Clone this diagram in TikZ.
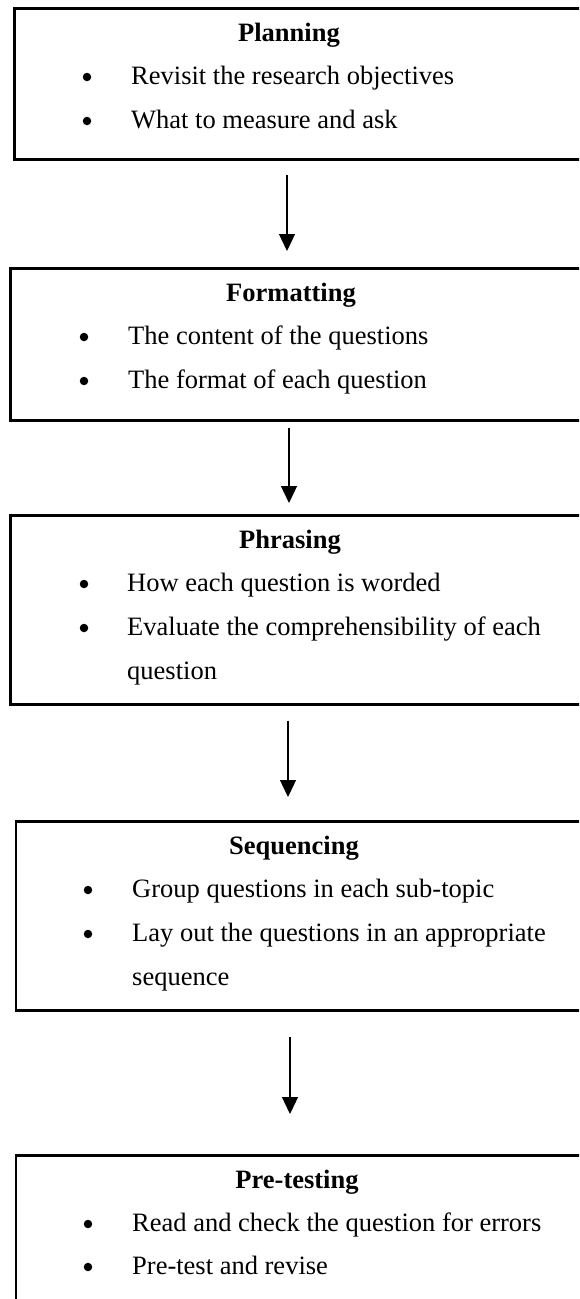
\documentclass[tikz,border=0pt]{standalone}
\usepackage{fontspec}
\setmainfont{Liberation Serif}
\usetikzlibrary{arrows.meta}
\begin{document}
\begin{tikzpicture}[x=1pt,y=-1pt,
  stage/.style={draw=black, line width=2.5pt, rectangle, anchor=north west,
    minimum width=600pt, inner sep=0pt},
  title/.style={anchor=base, inner sep=0pt, font=\fontsize{26.5}{30}\selectfont\bfseries},
  item/.style={anchor=base west, inner sep=0pt, font=\fontsize{26.5}{30}\selectfont},
  dot/.style={circle, fill=black, inner sep=0pt, minimum size=8.5pt},
  flow/.style={draw=black, line width=1.3pt, -{Triangle[width=16pt,length=17pt]}}
]
\useasboundingbox (0,0) rectangle (579,1299);
\clip (0,0) rectangle (579,1299);

% Stage boxes (they run past the right edge of the page)
\node[stage, minimum height=151pt] (b1) at (13,7) {};
\node[stage, minimum height=152pt] (b2) at (9,267) {};
\node[stage, minimum height=189pt] (b3) at (9,514) {};
\node[stage, minimum height=189pt] (b4) at (14.5,820) {};
\node[stage, minimum height=152pt] (b5) at (14.5,1154) {};

% Planning
\node[title] (t1) at (289,41) {Planning};
\node[dot] (d11) at (87,77) {};
\node[item] (i11) at (131,84) {Revisit the research objectives};
\node[dot] (d12) at (87,121) {};
\node[item] (i12) at (131,128) {What to measure and ask};

% Formatting
\node[title] (t2) at (291,301) {Formatting};
\node[dot] (d21) at (84,337) {};
\node[item] (i21) at (128,344) {The content of the questions};
\node[dot] (d22) at (84,381) {};
\node[item] (i22) at (128,388) {The format of each question};

% Phrasing
\node[title] (t3) at (290,548) {Phrasing};
\node[dot] (d31) at (84,584) {};
\node[item] (i31) at (127,591) {How each question is worded};
\node[dot] (d32) at (84,628) {};
\node[item] (i32) at (127,635) {Evaluate the comprehensibility of each};
\node[item] (i33) at (127,679) {question};

% Sequencing
\node[title] (t4) at (294,854) {Sequencing};
\node[dot] (d41) at (88,890) {};
\node[item] (i41) at (132,897) {Group questions in each sub-topic};
\node[dot] (d42) at (88,934) {};
\node[item] (i42) at (132,941) {Lay out the questions in an appropriate};
\node[item] (i43) at (132,985) {sequence};

% Pre-testing
\node[title] (t5) at (297,1188) {Pre-testing};
\node[dot] (d51) at (88,1224) {};
\node[item] (i51) at (132,1231) {Read and check the question for errors};
\node[dot] (d52) at (88,1267) {};
\node[item] (i52) at (132,1274) {Pre-test and revise};

% Connectors between stages
\draw[flow, shorten <=14pt, shorten >=16pt] (b1.south west -| 287,0) -- (b2.north west -| 287,0);
\draw[flow, shorten <=6pt, shorten >=11pt] (b2.south west -| 289,0) -- (b3.north west -| 289,0);
\draw[flow, shorten <=15pt, shorten >=23pt] (b3.south west -| 288,0) -- (b4.north west -| 288,0);
\draw[flow, shorten <=25pt, shorten >=40pt] (b4.south west -| 290,0) -- (b5.north west -| 290,0);
\end{tikzpicture}
\end{document}
